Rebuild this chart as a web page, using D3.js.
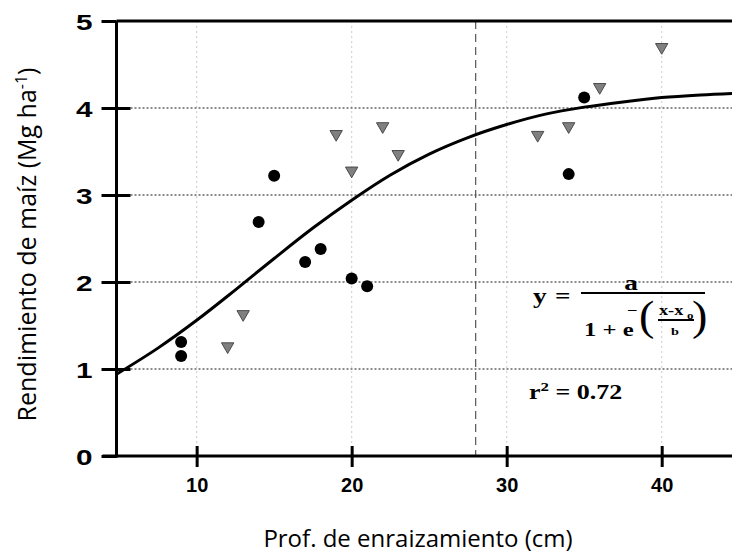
<!DOCTYPE html>
<html>
<head>
<meta charset="utf-8">
<script src="https://cdn.jsdelivr.net/npm/d3@7"></script>
<style>
  body { margin: 0; background: #fff; }
  svg { display: block; }
</style>
</head>
<body>
<div id="chart"></div>
<script>
// Datos
const xDomain = [4.83, 44.6];
const yDomain = [0, 5];
const xTicks = [10, 20, 30, 40];
const yTicks = [0, 1, 2, 3, 4, 5];

// círculos negros
const circX = [9, 9, 14, 15, 17, 18, 20, 21, 34, 35];
const circY = [1.31, 1.15, 2.69, 3.22, 2.23, 2.38, 2.04, 1.95, 3.24, 4.12];

// triángulos grises
const triX = [12, 13, 19, 20, 22, 23, 32, 34, 36, 40];
const triY = [1.26, 1.63, 3.70, 3.28, 3.79, 3.47, 3.69, 3.79, 4.24, 4.70];

// curva ajustada
const fitX = [4.83, 7.5, 10, 12.5, 15, 17.5, 20, 22.5, 25, 27.5, 30, 32.5, 35, 37.5, 40, 42.5, 45];
const fitY = [0.94, 1.24, 1.56, 1.91, 2.27, 2.62, 2.94, 3.23, 3.47, 3.66, 3.81, 3.93, 4.01, 4.07, 4.12, 4.15, 4.17];

const refX = 28;   // línea vertical discontinua

const W = 732, H = 556;
const CFG = {
  x0: 116.5, x1: 733, yTop: 21, yBot: 456,
  axis: "#000", grid: "#666", gridV: "#d4d4d4",
  tri: "#808080", triStroke: "#4a4a4a",
  sans: "'Liberation Sans', Arial, sans-serif",
  serif: "'Liberation Serif', 'Times New Roman', serif",
  title: "'Open Sans', 'Noto Sans', sans-serif"
};

const svg = d3.select("#chart").append("svg").attr("width", W).attr("height", H);

const x = d3.scaleLinear().domain(xDomain).range([CFG.x0, CFG.x1]);
const y = d3.scaleLinear().domain(yDomain).range([CFG.yBot, CFG.yTop]);

// rejilla vertical (muy tenue)
svg.append("g").selectAll("line").data(xTicks).join("line")
  .attr("x1", d => x(d)).attr("x2", d => x(d))
  .attr("y1", y(5)).attr("y2", y(0))
  .attr("stroke", CFG.gridV).attr("stroke-width", 1.2).attr("stroke-dasharray", "2,3");

// rejilla horizontal punteada
svg.append("g").selectAll("line").data(yTicks.filter(d => d > 0 && d < 5)).join("line")
  .attr("x1", x(xDomain[0]) + 14).attr("x2", W)
  .attr("y1", d => y(d)).attr("y2", d => y(d))
  .attr("stroke", CFG.grid).attr("stroke-width", 1.6).attr("stroke-dasharray", "2,2");

// línea discontinua en x = 28
svg.append("line")
  .attr("x1", x(refX)).attr("x2", x(refX))
  .attr("y1", y(5)).attr("y2", y(0))
  .attr("stroke", "#555").attr("stroke-width", 1.2).attr("stroke-dasharray", "8,5");

// ejes
const xAxis = svg.append("g").attr("transform", `translate(0,${y(0)})`)
  .call(d3.axisBottom(x).tickValues(xTicks).tickSize(0).tickFormat(""));
xAxis.select(".domain").remove();
xAxis.append("line").attr("x1", CFG.x0 - 14).attr("x2", W).attr("stroke", CFG.axis).attr("stroke-width", 3);
xAxis.selectAll(".tick").append("line")
  .attr("y1", -10).attr("y2", 11).attr("stroke", CFG.axis).attr("stroke-width", 3);
xAxis.selectAll(".tick").append("text")
  .attr("y", 36).attr("text-anchor", "middle").attr("fill", "#000")
  .style("font-family", CFG.sans).style("font-weight", "bold").style("font-size", "20px")
  .text(d => d);

const yAxis = svg.append("g").attr("transform", `translate(${CFG.x0},0)`)
  .call(d3.axisLeft(y).tickValues(yTicks).tickSize(0).tickFormat(""));
yAxis.select(".domain").remove();
yAxis.append("line").attr("y1", y(5)).attr("y2", y(0) + 1.5).attr("stroke", CFG.axis).attr("stroke-width", 3);
yAxis.selectAll(".tick").append("line")
  .attr("x1", -15).attr("x2", d => (d === 0 || d === 5) ? 0 : 14)
  .attr("stroke", CFG.axis).attr("stroke-width", 3);
yAxis.selectAll(".tick").append("text")
  .attr("transform", "translate(-24,8) scale(1.35,1)")
  .attr("text-anchor", "end").attr("fill", "#000")
  .style("font-family", CFG.sans).style("font-weight", "bold").style("font-size", "22px")
  .text(d => d);

// borde superior
svg.append("line").attr("x1", CFG.x0).attr("x2", W).attr("y1", y(5)).attr("y2", y(5))
  .attr("stroke", CFG.axis).attr("stroke-width", 3);

// curva
const line = d3.line().x((d, i) => x(fitX[i])).y(d => y(d)).curve(d3.curveMonotoneX);
svg.append("path").datum(fitY)
  .attr("fill", "none").attr("stroke", "#000").attr("stroke-width", 3)
  .attr("d", line);

// triángulos
const triSym = d3.symbol().type(d3.symbolTriangle).size(66);
svg.append("g").selectAll("path").data(triX).join("path")
  .attr("transform", (d, i) => `translate(${x(d)},${y(triY[i])}) rotate(180)`)
  .attr("d", triSym)
  .attr("fill", CFG.tri).attr("stroke", CFG.triStroke).attr("stroke-width", 1);

// círculos
svg.append("g").selectAll("circle").data(circX).join("circle")
  .attr("cx", d => x(d)).attr("cy", (d, i) => y(circY[i]))
  .attr("r", 6).attr("fill", "#000");

// títulos de ejes
svg.append("text")
  .attr("transform", `translate(36,${(y(0) + y(5)) / 2 + 6}) rotate(-90)`)
  .attr("text-anchor", "middle").attr("fill", "#000")
  .style("font-family", CFG.title).style("font-size", "25px")
  .call(t => {
    t.append("tspan").text("Rendimiento de maíz (Mg ha");
    t.append("tspan").attr("dy", -9).style("font-size", "16px").text("-1");
    t.append("tspan").attr("dy", 9).text(")");
  });

svg.append("text")
  .attr("x", 418).attr("y", 547)
  .attr("text-anchor", "middle").attr("fill", "#000")
  .style("font-family", CFG.title).style("font-size", "24px")
  .text("Prof. de enraizamiento (cm)");

// ecuación
const eq = svg.append("g")
  .style("font-family", CFG.serif).style("font-weight", "bold").attr("fill", "#000");
const put = (tx, ty, txt, fs, anchor) => eq.append("text")
  .attr("transform", `translate(${tx},${ty}) scale(1.3,1)`)
  .attr("text-anchor", anchor || "start").style("font-size", fs + "px").text(txt);

put(533, 303, "y", 21);
put(555, 303, "=", 21);
eq.append("line").attr("x1", 581).attr("x2", 705).attr("y1", 293).attr("y2", 293)
  .attr("stroke", "#000").attr("stroke-width", 2);
put(631, 290, "a", 21, "middle");
put(584, 336, "1 + e", 19);
put(628, 313, "\u2013", 13);
eq.append("text").attr("transform", "translate(639,330) scale(1.1,1)")
  .style("font-size", "42px").style("font-weight", "normal").text("(");
eq.append("text").attr("transform", "translate(692,330) scale(1.1,1)")
  .style("font-size", "42px").style("font-weight", "normal").text(")");
put(659, 315, "x-x", 14);
put(687, 319, "o", 10);
eq.append("line").attr("x1", 658).attr("x2", 694).attr("y1", 320).attr("y2", 320)
  .attr("stroke", "#000").attr("stroke-width", 1.8);
put(675, 335, "b", 11, "middle");

const r2 = eq.append("text")
  .attr("transform", "translate(529,399) scale(1.3,1)")
  .style("font-size", "20px");
r2.append("tspan").text("r");
r2.append("tspan").attr("dy", -8).style("font-size", "13px").text("2");
r2.append("tspan").attr("dy", 8).text(" = 0.72");
</script>
</body>
</html>
